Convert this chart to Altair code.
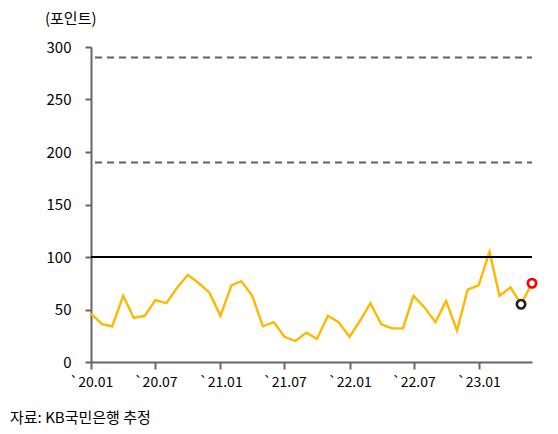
import altair as alt
import pandas as pd

months = pd.date_range("2020-01-01", "2023-06-01", freq="MS").strftime("%Y-%m-%d").tolist()
values = [46, 36, 34, 63, 42, 44, 59, 56, 71, 83, 75, 66,
          44, 73, 77, 63, 34, 38, 24, 20, 28, 22, 44, 38,
          24, 40, 56, 36, 32, 32, 63, 52, 38, 58, 30, 69,
          73, 105, 63, 71, 55, 75]
ref_dashed = [190, 290]
ref_solid = [100]
tick_dates = ["2020-01-01", "2020-07-01", "2021-01-01", "2021-07-01",
              "2022-01-01", "2022-07-01", "2023-01-01"]
mark_points = [("2023-05-01", 55, "#222222"), ("2023-06-01", 75, "#FF0000")]

FONT = "Noto Sans CJK KR"
df = pd.DataFrame({"date": months, "value": values})
pts = pd.DataFrame(mark_points, columns=["date", "value", "color"])

xscale = alt.Scale(domain=["2020-01-01", "2023-06-01"], type="utc")
yscale = alt.Scale(domain=[0, 300])

x_axis = alt.Axis(values=tick_dates,
                  labelExpr="'`' + utcFormat(datum.value, '%y.%m')",
                  title=None, grid=False, domainColor="#666666", domainWidth=2,
                  tickColor="#666666", tickWidth=2, tickSize=7,
                  labelFont=FONT, labelFontSize=14, labelColor="#000000",
                  labelPadding=6, labelOverlap=False, labelFlush=False)
y_axis = alt.Axis(values=[0, 50, 100, 150, 200, 250, 300], title=None, grid=False,
                  domainColor="#666666", domainWidth=2,
                  tickColor="#666666", tickWidth=2, tickSize=6,
                  labelFont=FONT, labelFontSize=15, labelColor="#000000",
                  labelPadding=14, labelOverlap=False, labelFlush=False)

line = alt.Chart(df).mark_line(color="#FFB800", strokeWidth=2.4).encode(
    x=alt.X("date:T", scale=xscale, axis=x_axis),
    y=alt.Y("value:Q", scale=yscale, axis=y_axis))

dashed = alt.Chart(pd.DataFrame({"value": ref_dashed})).mark_rule(
    color="#606060", strokeWidth=2, strokeDash=[7, 5]).encode(
    y=alt.Y("value:Q", scale=yscale, axis=y_axis), x=alt.value(4), x2=alt.value(441))

solid = alt.Chart(pd.DataFrame({"value": ref_solid})).mark_rule(
    color="#000000", strokeWidth=2).encode(
    y=alt.Y("value:Q", scale=yscale, axis=y_axis), x=alt.value(0), x2=alt.value(441))

points = alt.Chart(pts).mark_point(shape="circle", filled=False, size=70, strokeWidth=2.6,
                                   opacity=1, fill="white", fillOpacity=1).encode(
    x=alt.X("date:T", scale=xscale, axis=x_axis),
    y=alt.Y("value:Q", scale=yscale, axis=y_axis),
    stroke=alt.Color("color:N", scale=None))

unit = alt.Chart(pd.DataFrame({"t": ["(포인트)"]})).mark_text(
    font=FONT, fontSize=15, align="left", baseline="middle", color="#000000").encode(
    text="t:N", x=alt.value(-46), y=alt.value(-28))

source = alt.Chart(pd.DataFrame({"t": ["자료: KB국민은행 추정"]})).mark_text(
    font=FONT, fontSize=15, align="left", baseline="middle", color="#000000").encode(
    text="t:N", x=alt.value(-81), y=alt.value(371))

chart = alt.layer(line, dashed, solid, points, unit, source).properties(
    width=441, height=315,
    autosize=alt.AutoSizeParams(type="none"),
    padding={"left": 83, "top": 39, "right": 18, "bottom": 64},
).configure_view(stroke=None)

chart.save("out.html", embed_options={"renderer": "svg", "actions": False})
